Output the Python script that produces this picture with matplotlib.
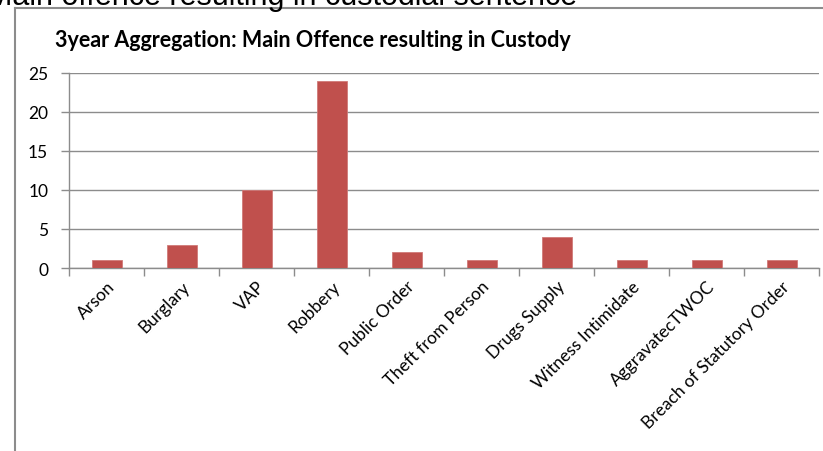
import matplotlib.pyplot as plt
from matplotlib.lines import Line2D

offences = ["Arson", "Burglary", "VAP", "Robbery", "Public Order",
            "Theft from Person", "Drugs Supply", "Witness Intimidate",
            "AggravatecTWOC", "Breach of Statutory Order"]
counts = [1, 3, 10, 24, 2, 1, 4, 1, 1, 1]
y_ticks = [0, 5, 10, 15, 20, 25]

W, H = 823, 452
fig = plt.figure(figsize=(W / 100, H / 100), dpi=100)
plt.rcParams['font.family'] = ['Lato', 'DejaVu Sans']

# plot area in pixels
left, right, top, bottom = 69, 819, 74, 269
ax = fig.add_axes([left / W, (H - bottom) / H, (right - left) / W, (bottom - top) / H])

grey = "#8c8c8c"
x = list(range(len(offences)))
ax.bar(x, counts, width=0.4, color="#c0504d", edgecolor="#d07a78", linewidth=0.6, zorder=3)

ax.set_xlim(-0.5, len(offences) - 0.5)
ax.set_ylim(0, 25)
ax.set_yticks(y_ticks)
ax.set_yticklabels([str(v) for v in y_ticks], fontsize=12.5)
ax.yaxis.grid(True, color=grey, linewidth=1, zorder=0)

ax.set_xticks(x)
ax.set_xticklabels(offences, rotation=45, ha="right", rotation_mode="anchor", fontsize=12.5)
ax.set_xticks([i - 0.5 for i in range(len(offences) + 1)], minor=True)
ax.tick_params(axis="x", which="major", length=0, pad=7)
ax.tick_params(axis="x", which="minor", length=6, color=grey, width=1)
ax.tick_params(axis="y", length=6, color=grey, width=1, pad=9)

for s in ["top", "right"]:
    ax.spines[s].set_visible(False)
for s in ["left", "bottom"]:
    ax.spines[s].set_color(grey)
    ax.spines[s].set_linewidth(1)

fig.text(55 / W, 1 - 47 / H, "3year Aggregation: Main Offence resulting in Custody",
         fontsize=15.5, fontweight="bold", ha="left", va="baseline")

# clipped heading above the chart frame
fig.text(577 / W, 1 - 5 / H, "Main offence resulting in custodial sentence",
         fontsize=22, family=["Liberation Sans", "DejaVu Sans"], ha="right", va="baseline")

# chart frame edges
fig.add_artist(Line2D([15 / W, 15 / W], [0, 1 - 9 / H], color=grey, linewidth=1.5))
fig.add_artist(Line2D([15 / W, 1], [1 - 9 / H, 1 - 9 / H], color=grey, linewidth=1.5))

fig.savefig("out.png", dpi=100)
